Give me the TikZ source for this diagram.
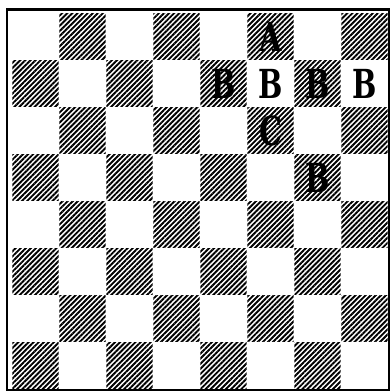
\documentclass[tikz,border=0pt]{standalone}
\usepackage{fontspec}
\usepackage{tikz}
\usetikzlibrary{patterns.meta}
\newfontfamily\piecefont{DejaVu Serif Condensed}

\begin{document}
\begin{tikzpicture}[
    x=47pt, y=47pt,
    dark/.style = {pattern={Lines[angle=45, distance=3.6pt, line width=1.9pt]}, pattern color=black},
    frame/.style = {draw=black, line width=2.6pt},
    piece/.style = {inner sep=0pt, xscale=0.8, transform shape, font=\fontsize{40}{40}\piecefont\bfseries, text=black}
]
    \useasboundingbox (-0.255,-0.043) rectangle (8.085,8.277);

    % 1. Hatched squares
    \foreach \r in {0,...,7} {
        \foreach \c in {0,...,7} {
            \pgfmathtruncatemacro{\odd}{mod(\r+\c,2)}
            \ifnum\odd=1
                \fill [dark] (\c+0.01,7-\r+0.01) rectangle (\c+0.99,8-\r-0.01);
            \fi
        }
    }

    % 2. Frame
    \draw [frame] (-0.11,-0.02) rectangle (8.02,8.08);

    % 3. Letters
    \node [piece] (a) at (5.5,7.5) {A};
    \node [piece] (b1) at (4.5,6.5) {B};
    \node [piece] (b2) at (5.5,6.5) {B};
    \node [piece] (b3) at (6.5,6.5) {B};
    \node [piece] (b4) at (7.5,6.5) {B};
    \node [piece] (c) at (5.5,5.5) {C};
    \node [piece] (b5) at (6.5,4.5) {B};

\end{tikzpicture}
\end{document}
